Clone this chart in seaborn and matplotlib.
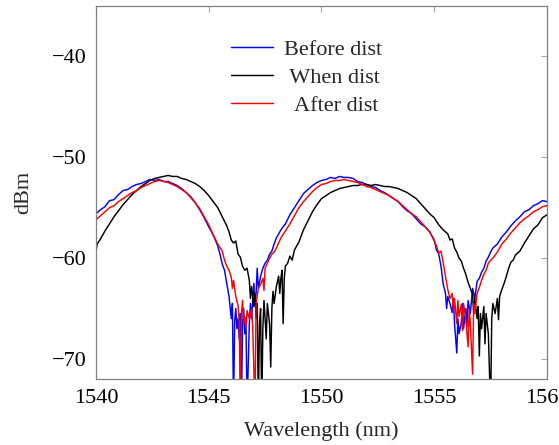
import matplotlib
matplotlib.use("Agg")
import matplotlib.pyplot as plt
import seaborn as sns

# values (wavelength in nm, power in dBm)
# -75 marks a spike that runs past the bottom of the axes
before_nm = [1540.0, 1540.2, 1540.4, 1540.6, 1540.8, 1541.0, 1541.2, 1541.4, 1541.6, 1541.8,
             1542.0, 1542.2, 1542.4, 1542.6, 1542.8, 1543.0, 1543.2, 1543.4, 1543.6, 1543.8,
             1544.0, 1544.2, 1544.4, 1544.6, 1544.8, 1545.0, 1545.2, 1545.4, 1545.5, 1545.6,
             1545.7, 1545.8, 1545.9, 1546.0, 1546.05, 1546.1, 1546.15, 1546.2, 1546.25, 1546.3,
             1546.35, 1546.4, 1546.45, 1546.5, 1546.55, 1546.6, 1546.65, 1546.7, 1546.8, 1546.85,
             1546.9, 1547.0, 1547.05, 1547.1, 1547.15, 1547.2, 1547.3, 1547.4, 1547.5, 1547.6,
             1547.7, 1547.8, 1547.9, 1548.0, 1548.2, 1548.4, 1548.6, 1548.8, 1549.0, 1549.2,
             1549.4, 1549.6, 1549.8, 1550.0, 1550.2, 1550.4, 1550.6, 1550.8, 1551.0, 1551.2,
             1551.4, 1551.6, 1551.8, 1552.0, 1552.2, 1552.4, 1552.6, 1552.8, 1553.0, 1553.2,
             1553.4, 1553.6, 1553.8, 1554.0, 1554.2, 1554.4, 1554.6, 1554.8, 1555.0, 1555.1,
             1555.2, 1555.3, 1555.4, 1555.5, 1555.55, 1555.6, 1555.7, 1555.8, 1555.85, 1555.9,
             1556.0, 1556.05, 1556.1, 1556.2, 1556.25, 1556.3, 1556.4, 1556.45, 1556.5, 1556.6,
             1556.7, 1556.8, 1556.9, 1557.0, 1557.1, 1557.2, 1557.3, 1557.4, 1557.5, 1557.6,
             1557.8, 1558.0, 1558.2, 1558.4, 1558.6, 1558.8, 1559.0, 1559.2, 1559.4, 1559.6,
             1559.8, 1560.0]
before_dbm = [-55.6, -55.2, -54.9, -54.3, -54.2, -53.7, -53.3, -53.2, -52.9, -52.7,
              -52.6, -52.4, -52.2, -52.3, -52.2, -52.4, -52.4, -52.6, -52.8, -53.1,
              -53.5, -53.9, -54.5, -55.2, -56.0, -56.9, -57.7, -58.8, -59.6, -60.6,
              -61.2, -62.5, -63.8, -66.0, -64.5, -75.0, -66.3, -65.0, -67.0, -66.0,
              -68.0, -65.5, -75.0, -66.5, -65.0, -67.5, -66.0, -75.0, -66.5, -64.5,
              -66.0, -62.5, -64.5, -63.5, -61.0, -63.0, -61.8, -61.0, -60.5, -60.2,
              -59.6, -59.3, -58.6, -58.0, -57.2, -56.6, -55.7, -55.0, -54.3, -53.6,
              -53.2, -52.8, -52.5, -52.3, -52.2, -52.0, -52.1, -51.9, -52.0, -52.0,
              -52.1, -52.4, -52.5, -52.7, -52.9, -53.0, -53.3, -53.5, -53.8, -54.1,
              -54.4, -54.9, -55.3, -55.6, -56.1, -56.6, -56.9, -57.4, -58.2, -59.2,
              -59.6, -60.8, -62.6, -63.5, -65.0, -63.8, -64.5, -65.4, -64.0, -66.5,
              -69.4, -66.0, -67.5, -66.4, -64.5, -67.0, -65.0, -66.8, -64.2, -65.5,
              -63.0, -64.0, -62.3, -62.0, -61.4, -61.0, -60.3, -59.9, -59.4, -59.0,
              -58.6, -57.9, -57.4, -56.8, -56.3, -55.9, -55.4, -55.2, -54.8, -54.6,
              -54.3, -54.4]

when_nm = [1540.0, 1540.05, 1540.2, 1540.4, 1540.6, 1540.8, 1541.0, 1541.2, 1541.4, 1541.6,
           1541.8, 1542.0, 1542.2, 1542.4, 1542.6, 1542.8, 1543.0, 1543.2, 1543.4, 1543.6,
           1543.8, 1544.0, 1544.2, 1544.4, 1544.6, 1544.8, 1545.0, 1545.2, 1545.4, 1545.6,
           1545.8, 1545.9, 1546.0, 1546.1, 1546.2, 1546.3, 1546.4, 1546.5, 1546.6, 1546.7,
           1546.8, 1546.85, 1546.9, 1547.0, 1547.05, 1547.1, 1547.15, 1547.2, 1547.25, 1547.3,
           1547.35, 1547.4, 1547.45, 1547.5, 1547.55, 1547.6, 1547.7, 1547.75, 1547.8, 1547.85,
           1547.9, 1548.0, 1548.1, 1548.15, 1548.2, 1548.25, 1548.3, 1548.35, 1548.4, 1548.5,
           1548.6, 1548.7, 1548.8, 1549.0, 1549.2, 1549.4, 1549.6, 1549.8, 1550.0, 1550.2,
           1550.4, 1550.6, 1550.8, 1551.0, 1551.2, 1551.4, 1551.6, 1551.8, 1552.0, 1552.2,
           1552.4, 1552.6, 1552.8, 1553.0, 1553.2, 1553.4, 1553.6, 1553.8, 1554.0, 1554.2,
           1554.4, 1554.6, 1554.8, 1555.0, 1555.2, 1555.4, 1555.6, 1555.7, 1555.8, 1555.9,
           1556.0, 1556.1, 1556.2, 1556.3, 1556.4, 1556.5, 1556.6, 1556.7, 1556.75, 1556.8,
           1556.9, 1556.95, 1557.0, 1557.05, 1557.1, 1557.2, 1557.25, 1557.3, 1557.4, 1557.5,
           1557.55, 1557.6, 1557.7, 1557.8, 1557.85, 1557.9, 1558.0, 1558.1, 1558.2, 1558.3,
           1558.4, 1558.5, 1558.6, 1558.8, 1559.0, 1559.2, 1559.4, 1559.6, 1559.8, 1560.0]
when_dbm = [-59.4, -58.6, -58.1, -57.3, -56.6, -55.9, -55.3, -54.7, -54.2, -53.7,
            -53.3, -52.9, -52.6, -52.3, -52.1, -52.0, -51.9, -51.8, -51.9, -51.9,
            -52.1, -52.2, -52.4, -52.6, -52.9, -53.3, -53.8, -54.4, -55.0, -55.9,
            -56.8, -57.4, -58.2, -58.5, -58.3, -59.6, -59.9, -60.8, -61.2, -61.0,
            -62.2, -64.0, -62.8, -64.8, -63.5, -66.0, -64.5, -75.0, -66.5, -65.0,
            -75.0, -67.0, -64.2, -66.0, -68.0, -64.5, -66.6, -70.8, -65.0, -63.3,
            -64.5, -62.8, -61.8, -63.5, -62.0, -61.2, -66.5, -62.0, -60.8, -60.5,
            -59.8, -60.2, -59.2, -58.4, -57.2, -56.3, -55.4, -54.7, -54.1, -53.8,
            -53.5, -53.3, -53.1, -53.0, -52.9, -52.8, -52.8, -52.7, -52.7, -52.8,
            -52.7, -52.8, -52.9, -52.9, -53.0, -53.1, -53.3, -53.5, -53.8, -54.1,
            -54.6, -55.1, -55.6, -56.0, -56.7, -57.2, -57.6, -58.2, -58.1, -59.0,
            -59.4, -60.0, -60.3, -61.0, -61.6, -62.4, -63.0, -63.6, -65.5, -64.0,
            -66.0, -64.8, -69.7, -65.5, -67.0, -64.8, -68.5, -65.5, -67.5, -75.0,
            -66.0, -64.5, -65.5, -64.0, -66.1, -63.8, -63.1, -62.5, -61.8, -61.0,
            -60.4, -60.2, -59.7, -59.3, -58.5, -57.8, -57.1, -56.7, -56.0, -55.7]

after_nm = [1540.0, 1540.2, 1540.4, 1540.6, 1540.8, 1541.0, 1541.2, 1541.4, 1541.6, 1541.8,
            1542.0, 1542.2, 1542.4, 1542.6, 1542.8, 1543.0, 1543.2, 1543.4, 1543.6, 1543.8,
            1544.0, 1544.2, 1544.4, 1544.6, 1544.8, 1545.0, 1545.2, 1545.4, 1545.6, 1545.7,
            1545.8, 1545.9, 1546.0, 1546.05, 1546.1, 1546.2, 1546.3, 1546.35, 1546.4, 1546.45,
            1546.5, 1546.55, 1546.6, 1546.65, 1546.7, 1546.8, 1546.9, 1546.95, 1547.05, 1547.1,
            1547.2, 1547.3, 1547.4, 1547.45, 1547.5, 1547.6, 1547.7, 1547.8, 1547.9, 1548.0,
            1548.2, 1548.4, 1548.6, 1548.8, 1549.0, 1549.2, 1549.4, 1549.6, 1549.8, 1550.0,
            1550.2, 1550.4, 1550.6, 1550.8, 1551.0, 1551.2, 1551.4, 1551.6, 1551.8, 1552.0,
            1552.2, 1552.4, 1552.6, 1552.8, 1553.0, 1553.2, 1553.4, 1553.6, 1553.8, 1554.0,
            1554.2, 1554.4, 1554.6, 1554.8, 1555.0, 1555.1, 1555.2, 1555.3, 1555.4, 1555.5,
            1555.6, 1555.7, 1555.8, 1555.85, 1555.9, 1556.0, 1556.05, 1556.1, 1556.2, 1556.25,
            1556.3, 1556.4, 1556.5, 1556.55, 1556.6, 1556.7, 1556.75, 1556.8, 1556.9, 1557.0,
            1557.1, 1557.2, 1557.3, 1557.4, 1557.5, 1557.6, 1557.8, 1558.0, 1558.2, 1558.4,
            1558.6, 1558.8, 1559.0, 1559.2, 1559.4, 1559.6, 1559.8, 1560.0]
after_dbm = [-56.2, -55.8, -55.4, -55.0, -54.8, -54.4, -54.1, -53.8, -53.5, -53.3,
             -53.0, -52.8, -52.6, -52.4, -52.3, -52.4, -52.5, -52.7, -52.9, -53.2,
             -53.5, -54.0, -54.5, -55.1, -55.9, -56.7, -57.7, -58.6, -59.3, -60.2,
             -60.8, -61.2, -61.9, -63.0, -62.2, -63.8, -64.7, -66.2, -75.0, -65.5,
             -64.2, -66.5, -65.8, -67.0, -65.2, -66.0, -65.0, -66.8, -75.0, -64.5,
             -63.0, -62.6, -62.0, -63.2, -61.0, -60.5, -60.0, -59.6, -59.4, -59.0,
             -58.0, -57.3, -56.6, -55.8, -55.0, -54.4, -53.9, -53.4, -53.0, -52.7,
             -52.6, -52.4, -52.3, -52.3, -52.2, -52.3, -52.4, -52.5, -52.7, -52.9,
             -53.0, -53.2, -53.4, -53.6, -53.8, -54.1, -54.4, -54.8, -55.2, -55.6,
             -55.9, -56.4, -56.9, -57.4, -58.3, -58.8, -59.5, -59.3, -60.5, -61.8,
             -63.1, -64.0, -63.5, -65.3, -64.0, -66.5, -64.2, -65.8, -64.6, -67.2,
             -64.5, -66.0, -68.8, -65.0, -66.5, -71.5, -64.5, -65.5, -63.5, -62.9,
             -62.2, -61.6, -61.2, -60.5, -60.2, -60.0, -59.4, -58.6, -58.1, -57.5,
             -57.0, -56.5, -56.1, -55.8, -55.4, -55.2, -54.9, -54.8]

labels = ["Before dist", " When dist", "  After dist"]
colors = ["#0000ff", "#000000", "#ff0000"]

sns.set_style("white")
plt.rcParams["font.family"] = ["Liberation Serif", "DejaVu Serif"]

fig = plt.figure(figsize=(5.59, 4.45), dpi=100)
ax = fig.add_axes([0.1717, 0.148, 0.8068, 0.8385])

series = [(before_nm, before_dbm), (when_nm, when_dbm), (after_nm, after_dbm)]
for (nm, dbm), lab, col in zip(series, labels, colors):
    sns.lineplot(x=nm, y=dbm, ax=ax, color=col, lw=1.05, label=lab, estimator=None, sort=False)

ax.set_xlim(1540, 1560)
ax.set_ylim(-72, -35)
ax.set_xticks([1540, 1545, 1550, 1555, 1560])
ax.set_yticks([-70, -60, -50, -40])
ax.tick_params(direction="in", length=4, width=0.8, color="#a6a6a6",
               top=True, right=True, labelsize=16, pad=7, labelcolor="black")
for sp in ax.spines.values():
    sp.set_color("#808080")
    sp.set_linewidth(0.9)

ax.set_xlabel("Wavelength (nm)", fontsize=16, labelpad=10)
ax.set_ylabel("dBm", fontsize=16, labelpad=13)

leg = ax.legend(loc="upper left", bbox_to_anchor=(0.299, 0.91), frameon=False,
                fontsize=16, handlelength=1.9, handletextpad=0.5, labelspacing=0.33,
                borderpad=0, borderaxespad=0)

fig.savefig("out.png", dpi=100)
